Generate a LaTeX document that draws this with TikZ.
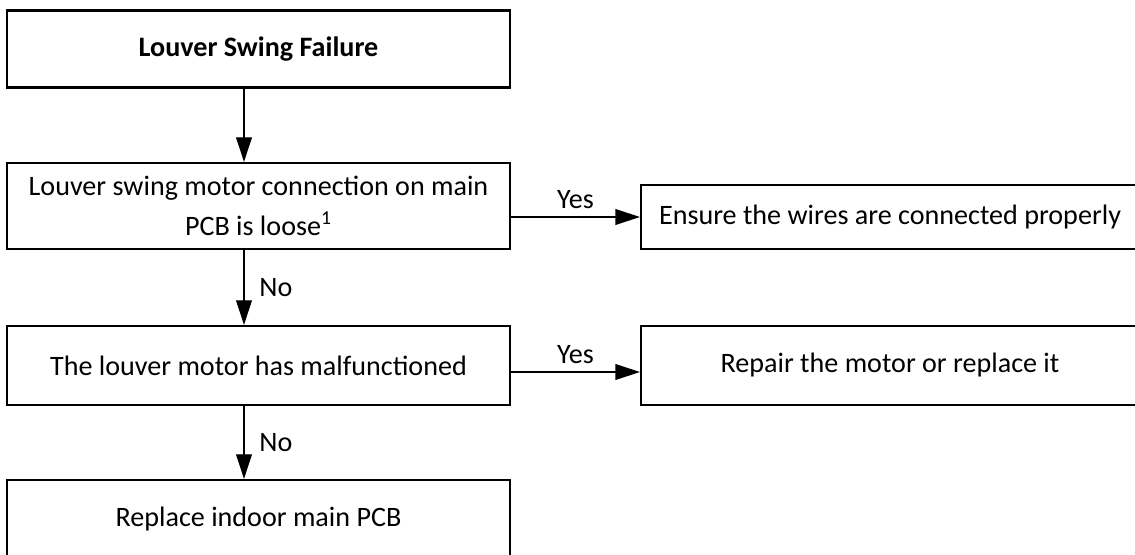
\documentclass[tikz,border=0pt]{standalone}
\usepackage{fontspec}
\setmainfont{Carlito}
\usetikzlibrary{arrows.meta}

\begin{document}
\begin{tikzpicture}[x=0.02cm, y=-0.02cm, line join=miter,
  box/.style={draw, line width=1.3pt, inner sep=0pt, align=center,
              font=\fontsize{16}{19.5}\selectfont},
  flow/.style={line width=0.8pt, -{Triangle[length=14pt, width=9pt]}},
  lbl/.style={font=\fontsize{16}{19.5}\selectfont}]
  \useasboundingbox (0,0) rectangle (1135,554); % identical box

  % --- left column ---
  \node[box, minimum width=10.06cm, minimum height=1.54cm] (fail)  at (258.5,49) {\textbf{Louver Swing Failure}};
  \node[box, minimum width=10.06cm, minimum height=1.72cm] (loose) at (258.5,206)
       {Louver swing motor connection on main\\[3pt] PCB is loose\textsuperscript{1}};
  \node[box, minimum width=10.06cm, minimum height=1.58cm] (motor) at (258.5,365.5) {The louver motor has malfunctioned};
  \node[box, minimum width=10.06cm, minimum height=1.54cm] (pcb)   at (258.5,518.5) {Replace indoor main PCB};

  % --- right column ---
  \node[box, minimum width=9.96cm, minimum height=1.28cm] (wires)  at (890,217) {Ensure the wires are connected properly};
  \node[box, minimum width=9.96cm, minimum height=1.58cm] (repair) at (890,365.5) {Repair the motor or replace it};

  \coordinate (col) at (244,0);
  \coordinate (yes2) at (0,372);

  % --- connectors ---
  \draw[flow] (fail.south -| col) -- (loose.north -| col);
  \draw[flow] (loose.south -| col) -- node[lbl, right=5pt] {No} (motor.north -| col);
  \draw[flow] (motor.south -| col) -- node[lbl, right=5pt] {No} (pcb.north -| col);
  \draw[flow] (loose.east |- wires.west) -- node[lbl, above=1pt] {Yes} (wires.west);
  \draw[flow] (motor.east |- yes2) -- node[lbl, above=1pt] {Yes} (repair.west |- yes2);
\end{tikzpicture}
\end{document}
